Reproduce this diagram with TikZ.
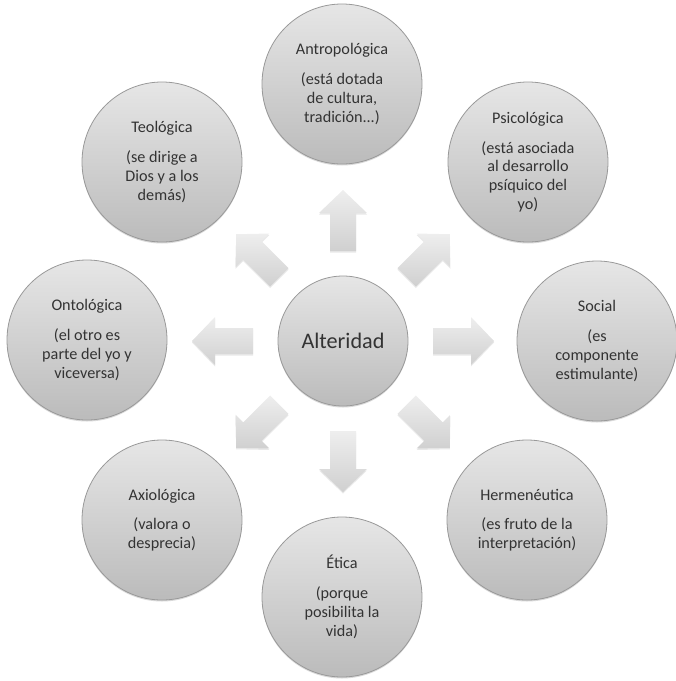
\documentclass[tikz,border=0pt]{standalone}
\usepackage{fontspec}
\setmainfont{Carlito}
\usetikzlibrary{calc,shadows}
\definecolor{ctop}{HTML}{E6E6E6}
\definecolor{cbot}{HTML}{BBBBBB}
\definecolor{cline}{HTML}{999999}
\definecolor{atop}{HTML}{EEEEEE}
\definecolor{abot}{HTML}{D0D0D0}
\definecolor{txt}{HTML}{333333}
\begin{document}
\begin{tikzpicture}[x=1pt,y=-1pt,
  bubble/.style={circle, minimum size=160pt, inner sep=0pt, draw=cline, line width=0.8pt,
    top color=ctop, bottom color=cbot, align=center, text=txt,
    font=\fontsize{16.2}{18.8}\selectfont,
    drop shadow={shadow xshift=0pt, shadow yshift=-1.5pt, opacity=0.25, fill=black!60}},
  hub/.style={bubble, minimum size=130pt, font=\fontsize{22.2}{26}\selectfont},
  blockarrow/.style={top color=atop, bottom color=abot, draw=none,
    drop shadow={shadow xshift=0pt, shadow yshift=-1.5pt, opacity=0.15, fill=black!60}}
]
\useasboundingbox (0,0) rectangle (676,681);
\node[hub] (alt) at (343,341) {Alteridad};
\node[bubble] (antro) at (342,84) {Antropológica\\[11pt](está dotada\\de cultura,\\tradición...)};
\node[bubble] (psico) at (528,162) {Psicológica\\[11pt](está asociada\\al desarrollo\\psíquico del\\yo)};
\node[bubble] (social) at (597,341) {Social\\[11pt](es\\componente\\estimulante)};
\node[bubble] (herm) at (527,520) {Hermenéutica\\[11pt](es fruto de la\\interpretación)};
\node[bubble] (etica) at (342,597) {Ética\\[11pt](porque\\posibilita la\\vida)};
\node[bubble] (axio) at (162,520) {Axiológica\\[11pt](valora o\\desprecia)};
\node[bubble] (onto) at (87,340) {Ontológica\\[11pt](el otro es\\parte del yo y\\viceversa)};
\node[bubble] (teo) at (162,162) {Teológica\\[11pt](se dirige a\\Dios y a los\\demás)};
\foreach \t in {0,45,90,135,180,225,270,315}{
  \path[blockarrow]
    ($(alt.center)+(\t:90)+(\t+90:13)$) --
    ($(alt.center)+(\t:128)+(\t+90:13)$) --
    ($(alt.center)+(\t:128)+(\t+90:24)$) --
    ($(alt.center)+(\t:151)$) --
    ($(alt.center)+(\t:128)+(\t-90:24)$) --
    ($(alt.center)+(\t:128)+(\t-90:13)$) --
    ($(alt.center)+(\t:90)+(\t-90:13)$) -- cycle;
}
\end{tikzpicture}
\end{document}
